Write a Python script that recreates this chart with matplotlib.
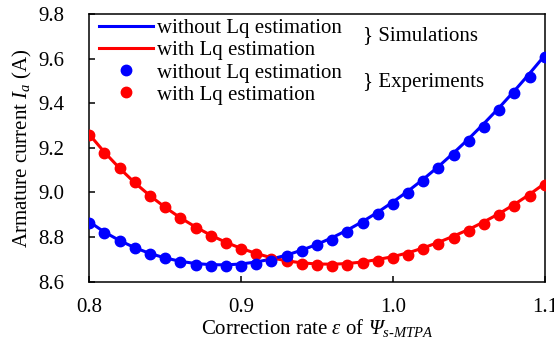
import numpy as np
import matplotlib
matplotlib.use("Agg")
import matplotlib.pyplot as plt
from matplotlib.lines import Line2D

plt.rcParams["font.family"] = "Liberation Serif"
# italic serif math so that the Greek capital Psi is slanted as well
plt.rcParams["mathtext.fontset"] = "custom"
plt.rcParams["mathtext.rm"] = "Liberation Serif:italic"
plt.rcParams["mathtext.it"] = "Liberation Serif:italic"
plt.rcParams["mathtext.bf"] = "Liberation Serif:bold"

# correction rate epsilon
eps = [0.80, 0.81, 0.82, 0.83, 0.84, 0.85, 0.86, 0.87, 0.88, 0.89, 0.90,
       0.91, 0.92, 0.93, 0.94, 0.95, 0.96, 0.97, 0.98, 0.99, 1.00,
       1.01, 1.02, 1.03, 1.04, 1.05, 1.06, 1.07, 1.08, 1.09, 1.10]

# simulations
sim_without = [8.868, 8.822, 8.784, 8.752, 8.726, 8.706, 8.691, 8.681, 8.676, 8.675, 8.679,
               8.688, 8.701, 8.719, 8.741, 8.767, 8.797, 8.831, 8.869, 8.911, 8.957,
               9.006, 9.059, 9.116, 9.177, 9.241, 9.309, 9.380, 9.455, 9.533, 9.614]
sim_with = [9.260, 9.180, 9.108, 9.043, 8.985, 8.933, 8.886, 8.845, 8.808, 8.776, 8.749,
            8.726, 8.707, 8.693, 8.684, 8.679, 8.678, 8.681, 8.688, 8.699, 8.712,
            8.729, 8.751, 8.776, 8.804, 8.834, 8.868, 8.905, 8.946, 8.991, 9.040]

# experiments
exp_without = [8.864, 8.819, 8.784, 8.751, 8.724, 8.707, 8.689, 8.676, 8.670, 8.671, 8.672,
               8.681, 8.694, 8.717, 8.738, 8.762, 8.787, 8.822, 8.862, 8.904, 8.947,
               8.997, 9.051, 9.109, 9.168, 9.229, 9.294, 9.369, 9.444, 9.518, 9.608]
exp_with = [9.256, 9.177, 9.109, 9.045, 8.985, 8.934, 8.885, 8.841, 8.805, 8.775, 8.748,
            8.724, 8.703, 8.691, 8.679, 8.673, 8.672, 8.673, 8.684, 8.694, 8.705,
            8.721, 8.744, 8.768, 8.795, 8.825, 8.859, 8.897, 8.938, 8.982, 9.031]

xticks = [0.8, 0.9, 1.0, 1.1]
yticks = [8.6, 8.8, 9.0, 9.2, 9.4, 9.6, 9.8]

fs = 15

fig = plt.figure(figsize=(5.54, 3.52), dpi=100)
ax = fig.add_axes([0.1612, 0.2, 0.822, 0.7602])

ax.plot(eps, sim_with, color="red", lw=2.2, zorder=2)
ax.plot(eps, sim_without, color="blue", lw=2.2, zorder=2)
ax.plot(eps, exp_with, "o", color="red", ms=7.5, zorder=3)
ax.plot(eps, exp_without, "o", color="blue", ms=7.5, zorder=3)

ax.set_xlim(0.8, 1.1)
ax.set_ylim(8.6, 9.8)
ax.set_xticks(xticks)
ax.set_xticklabels(["%.1f" % t for t in xticks])
ax.set_yticks(yticks)
ax.set_yticklabels(["%.1f" % t for t in yticks])
ax.tick_params(direction="in", length=4, width=1.1, labelsize=fs)
ax.tick_params(axis="x", pad=12)
ax.tick_params(axis="y", pad=18)
for s in ax.spines.values():
    s.set_linewidth(1.1)

ax.set_xlabel(r"Correction rate $\varepsilon$ of $Ψ_{s\text{-}MTPA}$", fontsize=fs, labelpad=0)
ax.set_ylabel(r"Armature current $I_a$ (A)", fontsize=fs, labelpad=3)

handles = [Line2D([], [], color="blue", lw=2.2),
           Line2D([], [], color="red", lw=2.2),
           Line2D([], [], color="blue", marker="o", ms=7.5, ls="none"),
           Line2D([], [], color="red", marker="o", ms=7.5, ls="none")]
labels = ["without Lq estimation", "with Lq estimation",
          "without Lq estimation", "with Lq estimation"]
ax.legend(handles, labels, loc="upper left", bbox_to_anchor=(0.021, 0.982),
          frameon=False, fontsize=fs, handlelength=2.6, handletextpad=0.2,
          labelspacing=0.12, borderpad=0, borderaxespad=0)
ax.text(0.60, 0.918, "} Simulations", transform=ax.transAxes, fontsize=fs, va="center")
ax.text(0.60, 0.745, "} Experiments", transform=ax.transAxes, fontsize=fs, va="center")

fig.savefig("out.png", dpi=100)
